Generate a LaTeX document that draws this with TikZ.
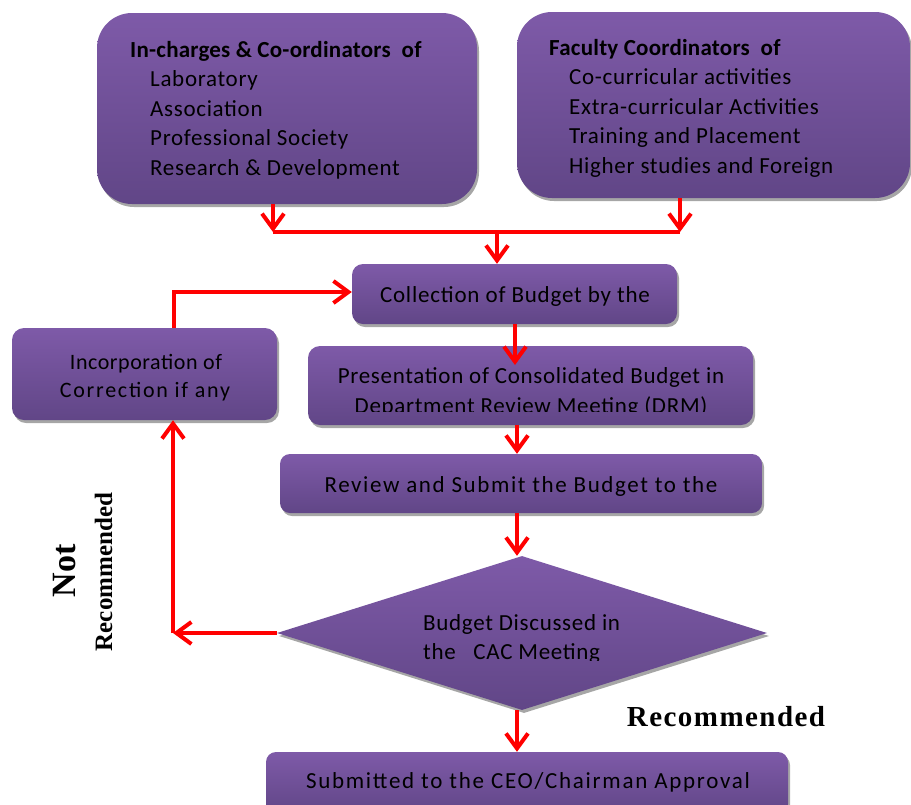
\documentclass[tikz,border=0pt]{standalone}
\usepackage{fontspec}
\setmainfont{Carlito}
\newfontfamily\timesb{Liberation Serif}
\usetikzlibrary{shapes.geometric,arrows.meta,shadows,calc}
\definecolor{ptop}{RGB}{126,90,168}
\definecolor{pbot}{RGB}{97,70,135}
\definecolor{arr}{RGB}{255,0,0}
\newcommand\lsp[1]{\addfontfeature{LetterSpace=#1}}
\begin{document}
\begin{tikzpicture}[x=1pt,y=-1pt,
  box/.style={draw=none, top color=ptop, bottom color=pbot,
    drop shadow={shadow xshift=2pt,shadow yshift=-3pt,opacity=0.35,fill=black},
    inner sep=0pt},
  txt/.style={inner sep=0pt, anchor=base, text=black, font=\fontsize{23}{28}\selectfont},
  ttl/.style={inner sep=0pt, anchor=base west, text=black, font=\bfseries\fontsize{23}{28}\selectfont},
  lbl/.style={inner sep=0pt, anchor=base, text=black},
  link/.style={draw=arr, line width=4pt},
  flow/.style={link, -{Straight Barb[length=15pt,width=22pt]}}
]
\useasboundingbox (0,0) rectangle (911,804);

% boxes
\node[box, rounded corners=35pt, minimum width=380pt, minimum height=191pt] (box1) at (287,108.5) {};
\node[box, rounded corners=35pt, minimum width=393pt, minimum height=186pt] (box2) at (713.5,105) {};
\node[box, rounded corners=11pt, minimum width=325pt, minimum height=60pt] (coll) at (514.5,294) {};
\node[box, rounded corners=12pt, minimum width=265pt, minimum height=92pt] (inc) at (144.5,374) {};
\node[box, rounded corners=12pt, minimum width=445pt, minimum height=79pt] (pres) at (530.5,385.5) {};
\node[box, rounded corners=10pt, minimum width=482pt, minimum height=59pt] (rev) at (521,483.5) {};
\node[box, diamond, minimum width=490pt, minimum height=154pt] (dia) at (522,633) {};
\node[box, rounded corners=10pt, minimum width=522pt, minimum height=62pt] (sub) at (527,783) {};

% texts of box 1
\node[ttl] (t1) at (130,57) {\lsp{1}In-charges \& Co-ordinators\ \ of};
\foreach \t [count=\i] in {Laboratory, Association, Professional Society, Research \& Development}
  \node[txt, anchor=base west] (t1\i) at (150,57+29.5*\i) {\lsp{3}\t};
% texts of box 2
\node[ttl] (t2) at (549,55) {\lsp{1}Faculty Coordinators\ \ of};
\foreach \t [count=\i] in {Co-curricular activities, Extra-curricular Activities, Training and Placement, Higher studies and Foreign}
  \node[txt, anchor=base west] (t2\i) at (569,55+29.5*\i) {\lsp{3}\t};

\node[txt] (tcoll) at (515,302) {\lsp{3.5}Collection of Budget by the};
\node[txt, font=\fontsize{22}{26}\selectfont] (tinc1) at (146,369) {\lsp{2.5}Incorporation of};
\node[txt, font=\fontsize{22}{26}\selectfont] (tinc2) at (145,397) {\lsp{8}Correction if any};
\node[txt] (tpres1) at (531,383) {\lsp{3}Presentation of Consolidated Budget in};
\begin{scope}
  \clip (300,390) rectangle (760,411.5);
  \node[txt] (tpres2) at (531,413) {\lsp{3}Department Review Meeting (DRM)};
\end{scope}
\node[txt] (trev) at (521,492) {\lsp{7}Review and Submit the Budget to the};
\node[txt, anchor=base west] (tdia1) at (423,630) {\lsp{3}Budget Discussed in};
\begin{scope}
  \clip (400,640) rectangle (640,660.5);
  \node[txt, anchor=base west] (tdia2) at (423,659.5) {\lsp{3}the\ \ \ CAC Meeting};
\end{scope}
\node[txt] (tsub) at (528,788) {\lsp{7.5}Submitted to the CEO/Chairman Approval};

% labels
\node[lbl, font=\timesb\bfseries\fontsize{29}{32}\selectfont] (rec) at (726,726) {\lsp{5}Recommended};
\node[lbl, rotate=90, font=\timesb\bfseries\fontsize{34}{36}\selectfont] (nt) at (75,571) {Not};
\node[lbl, rotate=90, font=\timesb\bfseries\fontsize{25}{28}\selectfont] (ntrec) at (112,572) {Recommended};

% connectors
\coordinate (j1) at (273,232);
\coordinate (j2) at (680,232);
\coordinate (j3) at (497,232);
\draw[flow] (box1.south -| j1) -- (j1);
\draw[flow] (box2.south -| j2) -- (j2);
\draw[link] (j1) -- (j2);
\draw[flow] (j3) -- (coll.north -| j3);
\coordinate (c1) at (515,365);
\draw[flow] (coll.south -| c1) -- (c1);
\coordinate (c2) at (517,0);
\draw[flow] (pres.south -| c2) -- (rev.north -| c2);
\draw[flow] (rev.south -| c2) -- (dia.north -| c2);
\draw[flow] (dia.south -| c2) -- (sub.north -| c2);
\coordinate (c3) at (173,633);
\draw[flow] (dia.west) -- (c3);
\draw[flow] (c3) -- (inc.south -| c3);
\coordinate (c4) at (174,292);
\draw[flow] (inc.north -| c4) -- (c4) -- (coll.west |- c4);
\end{tikzpicture}
\end{document}
